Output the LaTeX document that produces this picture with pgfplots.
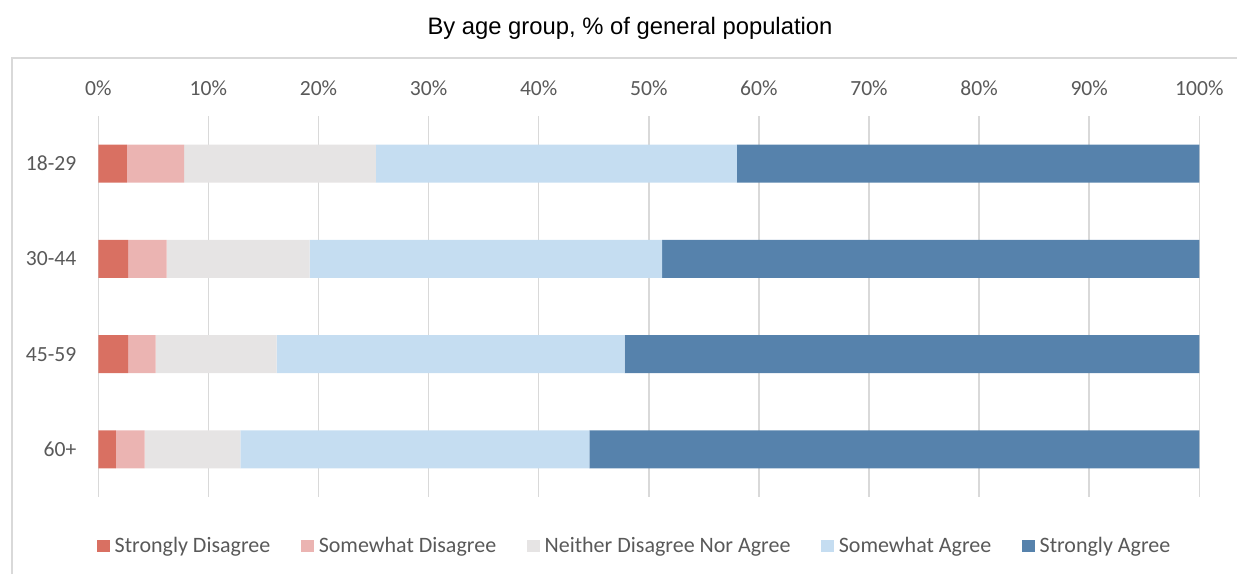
\documentclass[border=0pt]{standalone}
\usepackage{pgfplots}
\pgfplotsset{compat=1.18}
\usepackage{fontspec}
\setmainfont{Carlito}
\newfontfamily\arialf{Liberation Sans}
\definecolor{cSD}{HTML}{D97062}
\definecolor{cSwD}{HTML}{EBB4B2}
\definecolor{cN}{HTML}{E6E4E4}
\definecolor{cSA}{HTML}{C5DDF1}
\definecolor{cStA}{HTML}{5682AC}
\definecolor{gridc}{HTML}{D9D9D9}
\definecolor{txt}{HTML}{595959}
\pgfplotstableread{
idx SD SwD N SA StA
0 2.6 5.2 17.4 32.8 42.0
1 2.7 3.5 13.0 32.0 48.8
2 2.7 2.5 11.0 31.6 52.2
3 1.6 2.6 8.7 31.7 55.4
}\datatable
\begin{document}
\begin{tikzpicture}
\useasboundingbox (0,0) rectangle (618.5pt,287pt);
\draw[gridc, line width=0.75pt] (6pt,0pt) -- (6pt,258pt) -- (618.5pt,258pt);
\node[font=\arialf\fontsize{11.9pt}{13.5pt}\selectfont, text=black] at (315pt,273pt) {By age group, \% of general population};
\begin{axis}[
  at={(49.15pt,38.5pt)}, anchor=south west,
  width=550.5pt, height=190.5pt, scale only axis,
  xbar stacked, bar width=19pt,
  y dir=reverse,
  xmin=0, xmax=100, ymin=-0.5, ymax=3.5,
  xtick={0,10,...,100},
  xticklabels={0\%,10\%,20\%,30\%,40\%,50\%,60\%,70\%,80\%,90\%,100\%},
  xticklabel pos=top,
  ytick={0,1,2,3},
  yticklabels={18-29,30-44,45-59,60+},
  axis line style={draw=none},
  major tick length=0pt,
  xmajorgrids, grid style={gridc, line width=0.75pt},
  every tick label/.append style={font=\fontsize{10.8pt}{12pt}\selectfont, text=txt},
  xticklabel style={anchor=base, inner sep=0pt, yshift=10.5pt},
  yticklabel style={anchor=east, inner sep=0pt, xshift=-10.8pt},
  legend columns=5,
  legend style={at={(axis description cs:0.4885,-0.1286)}, anchor=center, draw=none, fill=none,
    font=\fontsize{11pt}{12pt}\selectfont, text=txt,
    /tikz/every even column/.append style={column sep=12.8pt},
    nodes={inner xsep=2.5pt}},
  legend image code/.code={\fill[#1] (0pt,-3.2pt) rectangle (6.4pt,3.2pt);},
]
\addplot[fill=cSD, draw=none] table[x=SD, y=idx] {\datatable};
\addplot[fill=cSwD, draw=none] table[x=SwD, y=idx] {\datatable};
\addplot[fill=cN, draw=none] table[x=N, y=idx] {\datatable};
\addplot[fill=cSA, draw=none] table[x=SA, y=idx] {\datatable};
\addplot[fill=cStA, draw=none] table[x=StA, y=idx] {\datatable};
\legend{Strongly Disagree, Somewhat Disagree, Neither Disagree Nor Agree, Somewhat Agree, Strongly Agree}
\end{axis}
\end{tikzpicture}
\end{document}
